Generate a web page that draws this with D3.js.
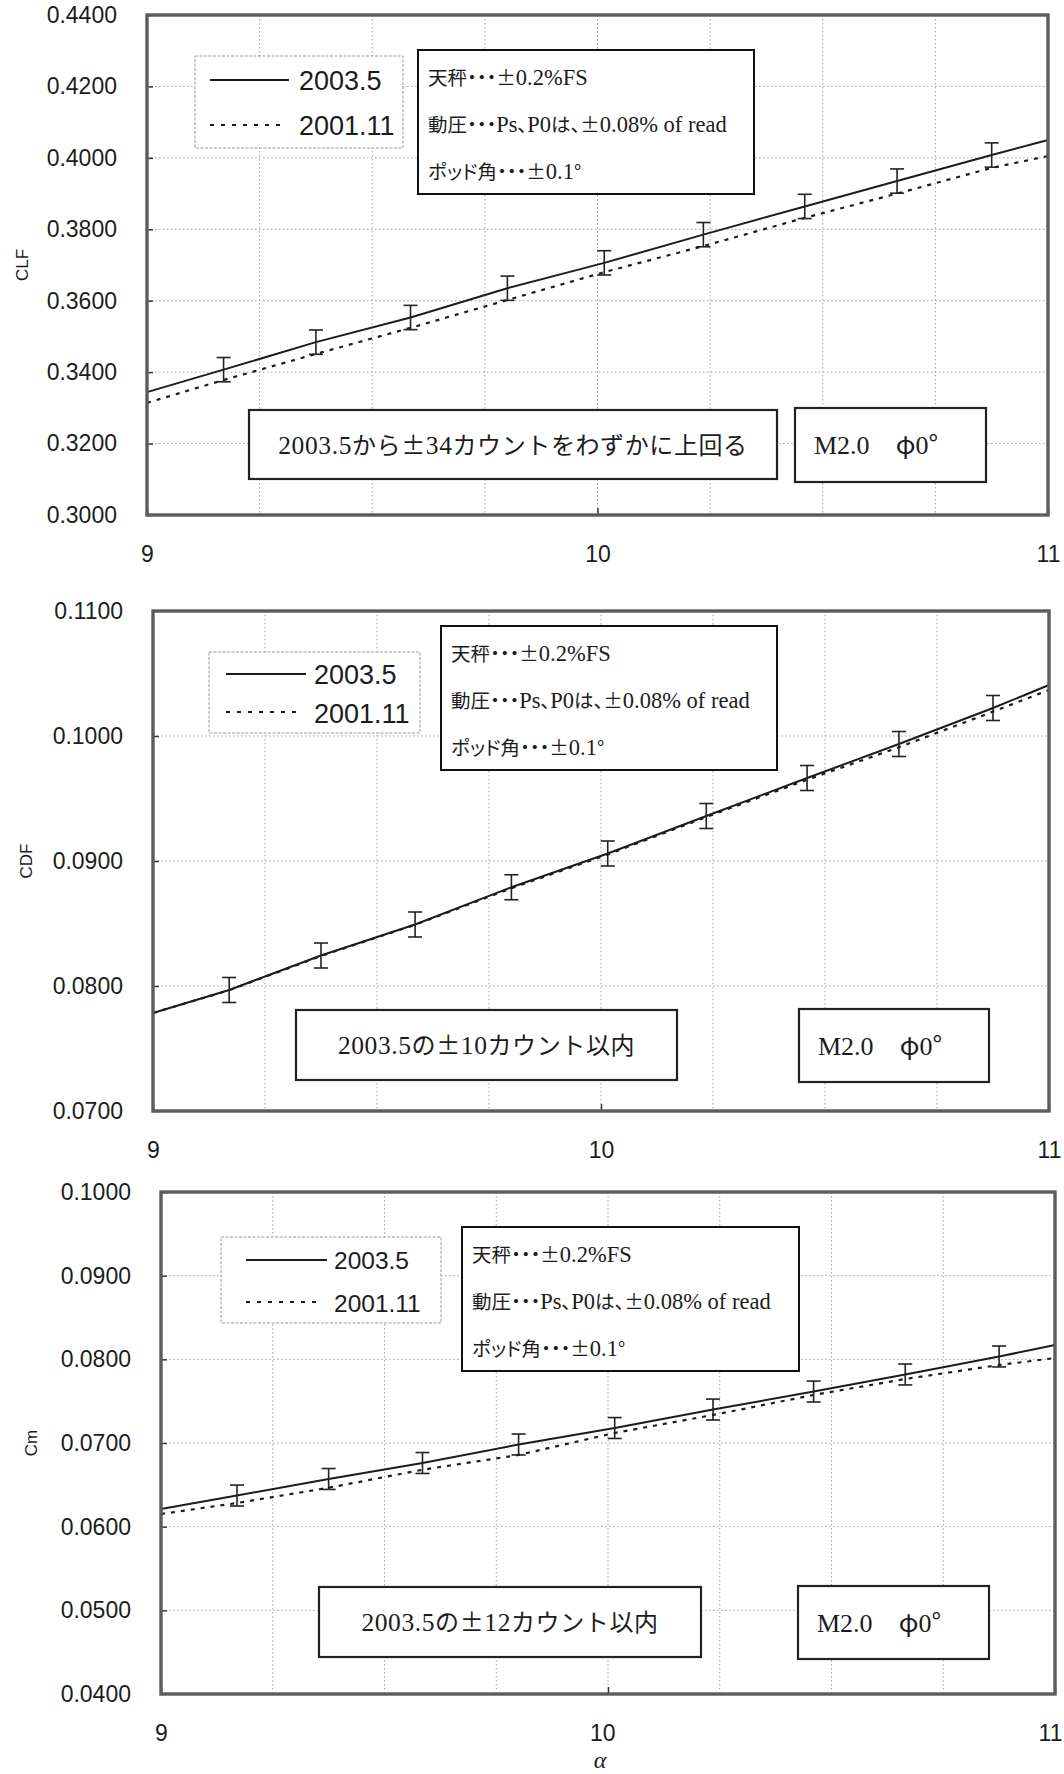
<!DOCTYPE html>
<html>
<head>
<meta charset="utf-8">
<script src="https://cdn.jsdelivr.net/npm/d3@7"></script>
<style>
  html, body { margin: 0; padding: 0; background: #fff; }
  svg { display: block; }
</style>
</head>
<body>
<svg id="chart" width="1064" height="1774"></svg>
<script>
// ---- data ----------------------------------------------------------------
// angle of attack (deg); first and last entries are the frame edges
const alpha = [9.0, 9.17, 9.375, 9.585, 9.80, 10.015, 10.235, 10.46, 10.665, 10.875, 11.0];

const seriesNames = ["2003.5", "2001.11"];

const clf2003 = [0.3344, 0.3407, 0.3484, 0.3553, 0.3635, 0.3706, 0.3785, 0.3864, 0.3935, 0.4008, 0.4050];
const clf2001 = [0.3314, 0.3378, 0.3451, 0.3524, 0.3602, 0.3680, 0.3753, 0.3832, 0.3900, 0.3972, 0.4005];
const clfErr  = [null, 0.0034, 0.0034, 0.0034, 0.0034, 0.0034, 0.0034, 0.0034, 0.0034, 0.0034, null];

const cdf2003 = [0.07784, 0.07968, 0.08244, 0.08492, 0.08790, 0.09060, 0.09360, 0.09664, 0.09936, 0.10224, 0.10408];
const cdf2001 = [0.07784, 0.07966, 0.08240, 0.08490, 0.08782, 0.09052, 0.09352, 0.09650, 0.09910, 0.10195, 0.10368];
const cdfErr  = [null, 0.0010, 0.0010, 0.0010, 0.0010, 0.0010, 0.0010, 0.0010, 0.0010, 0.0010, null];

const cm2003 = [0.06211, 0.06372, 0.06570, 0.06761, 0.06982, 0.07179, 0.07400, 0.07615, 0.07819, 0.08034, 0.08171];
const cm2001 = [0.06151, 0.06283, 0.06465, 0.06680, 0.06857, 0.07120, 0.07335, 0.07574, 0.07765, 0.07932, 0.08016];
const cmErr  = [null, 0.00125, 0.00125, 0.00125, 0.00125, 0.00125, 0.00125, 0.00125, 0.00125, 0.00125, null];

const xTicks = [9, 10, 11];
const xGrid = [9.25, 9.5, 9.75, 10, 10.25, 10.5, 10.75];
const clfTicks = [0.30, 0.32, 0.34, 0.36, 0.38, 0.40, 0.42, 0.44];
const cdfTicks = [0.07, 0.08, 0.09, 0.10, 0.11];
const cmTicks  = [0.04, 0.05, 0.06, 0.07, 0.08, 0.09, 0.10];

const noteLines = ["天秤・・・±0.2%FS", "動圧・・・Ps、P0は、±0.08% of read", "ポッド角・・・±0.1°"];
const clfRemark = "2003.5から±34カウントをわずかに上回る";
const cdfRemark = "2003.5の±10カウント以内";
const cmRemark  = "2003.5の±12カウント以内";
const condition = "M2.0　φ0°";
const xTitle = "α";

// ---- panel layout --------------------------------------------------------
const panels = [
  { title: "CLF", s1: clf2003, s2: clf2001, err: clfErr, ticks: clfTicks, remark: clfRemark,
    x0: 147, x1: 1048, y0: 15, y1: 515, titleX: 22,
    leg: { x: 195, y: 56, w: 208, h: 92, lx0: 210, lx1: 289, tx: 299, ly1: 80, ly2: 125, b1: 90, b2: 135, fs: 27 },
    info: { x: 418, y: 50, w: 336, h: 144 },
    box1: { x: 249, y: 410, w: 528, h: 69 },
    box2: { x: 795, y: 408, w: 191, h: 74, tx: 814 } },
  { title: "CDF", s1: cdf2003, s2: cdf2001, err: cdfErr, ticks: cdfTicks, remark: cdfRemark,
    x0: 153, x1: 1049, y0: 611, y1: 1111, titleX: 26,
    leg: { x: 209, y: 652, w: 211, h: 81, lx0: 226, lx1: 306, tx: 314, ly1: 674, ly2: 712, b1: 684, b2: 723, fs: 27 },
    info: { x: 441, y: 626, w: 336, h: 144 },
    box1: { x: 296, y: 1010, w: 381, h: 70 },
    box2: { x: 799, y: 1009, w: 190, h: 73, tx: 818 } },
  { title: "Cm", s1: cm2003, s2: cm2001, err: cmErr, ticks: cmTicks, remark: cmRemark,
    x0: 161, x1: 1055, y0: 1192, y1: 1694, titleX: 31,
    leg: { x: 221, y: 1237, w: 220, h: 86, lx0: 246, lx1: 327, tx: 334, ly1: 1260, ly2: 1302, b1: 1269, b2: 1312, fs: 24.5 },
    info: { x: 462, y: 1227, w: 337, h: 144 },
    box1: { x: 319, y: 1587, w: 382, h: 70 },
    box2: { x: 798, y: 1586, w: 191, h: 73, tx: 817 } }
];

const SANS = "'Liberation Sans', Arial, sans-serif";
const SERIF = "'Liberation Serif', 'Times New Roman', serif";
const CJK = "'Noto Sans CJK JP', sans-serif";
const INK = "#1c1c1c";
const PAGE_W = 1064;

const svg = d3.select("#chart");

// mixed Japanese / Latin text: ASCII runs in a serif face, the rest in the CJK face
function addRuns(text, str, latinSize, cjkSize, palt) {
  str.match(/[\x20-\x7E]+|[^\x20-\x7E]+/g).forEach(run => {
    const ascii = /^[\x20-\x7E]+$/.test(run);
    const t = text.append("tspan").text(run)
      .attr("font-family", ascii ? SERIF : CJK)
      .attr("font-size", ascii ? latinSize : cjkSize);
    if (!ascii && palt) t.style("font-feature-settings", '"palt"');
  });
  return text;
}

panels.forEach(p => {
  const g = svg.append("g");
  const x = d3.scaleLinear().domain([9, 11]).range([p.x0, p.x1]);
  const y = d3.scaleLinear().domain(d3.extent(p.ticks)).range([p.y1, p.y0]);

  // grid
  g.append("g").selectAll("line").data(xGrid).join("line")
    .attr("x1", d => x(d)).attr("x2", d => x(d))
    .attr("y1", p.y0).attr("y2", p.y1)
    .attr("stroke", "#a0a0a0").attr("stroke-width", 1).attr("stroke-dasharray", "1.5,2.5");
  g.append("g").selectAll("line").data(p.ticks.slice(1, -1)).join("line")
    .attr("x1", p.x0).attr("x2", p.x1)
    .attr("y1", d => y(d)).attr("y2", d => y(d))
    .attr("stroke", "#a0a0a0").attr("stroke-width", 1).attr("stroke-dasharray", "1.5,2.5");

  // axes
  const yAxis = d3.axisLeft(y).tickValues(p.ticks).tickFormat(d3.format(".4f"))
    .tickSizeInner(-6).tickSizeOuter(0).tickPadding(30);
  const ya = g.append("g").attr("transform", `translate(${p.x0},0)`).call(yAxis);
  ya.select(".domain").remove();
  ya.selectAll("line").attr("stroke", "#333").attr("stroke-width", 1.5);
  ya.selectAll("text").attr("font-family", SANS).attr("font-size", 23).attr("fill", INK);

  const xAxis = d3.axisBottom(x).tickValues(xTicks).tickFormat(d3.format("d"))
    .tickSizeInner(-7).tickSizeOuter(0).tickPadding(31);
  const xa = g.append("g").attr("transform", `translate(0,${p.y1})`).call(xAxis);
  xa.select(".domain").remove();
  xa.selectAll("line").attr("stroke", "#333").attr("stroke-width", 1.5);
  xa.selectAll("text").attr("font-family", SANS).attr("font-size", 23).attr("fill", INK)
    .each(function () {
      // keep the right-most label on the page
      const b = this.getBBox();
      const right = p.x1 + b.x + b.width;
      if (right > PAGE_W - 2) d3.select(this).attr("dx", PAGE_W - 2 - right);
    });

  // axis title
  g.append("text")
    .attr("transform", `translate(${p.titleX},${(p.y0 + p.y1) / 2}) rotate(-90)`)
    .attr("text-anchor", "middle").attr("dy", "0.35em")
    .attr("font-family", SANS).attr("font-size", 17).attr("fill", INK)
    .text(p.title);

  // series lines
  const pts1 = alpha.map((a, i) => ({ a, v: p.s1[i], e: p.err[i] }));
  const pts2 = alpha.map((a, i) => ({ a, v: p.s2[i] }));
  const line = d3.line().x(d => x(d.a)).y(d => y(d.v));
  g.append("path").datum(pts2).attr("d", line)
    .attr("fill", "none").attr("stroke", INK).attr("stroke-width", 2.2)
    .attr("stroke-dasharray", "4,6");
  g.append("path").datum(pts1).attr("d", line)
    .attr("fill", "none").attr("stroke", INK).attr("stroke-width", 2);

  // error bars on the 2003.5 points
  const bars = g.append("g").selectAll("g").data(pts1.filter(d => d.e != null)).join("g")
    .attr("stroke", "#222").attr("stroke-width", 1.6);
  bars.append("line")
    .attr("x1", d => x(d.a)).attr("x2", d => x(d.a))
    .attr("y1", d => y(d.v + d.e)).attr("y2", d => y(d.v - d.e));
  bars.append("line")
    .attr("x1", d => x(d.a) - 7).attr("x2", d => x(d.a) + 7)
    .attr("y1", d => y(d.v + d.e)).attr("y2", d => y(d.v + d.e));
  bars.append("line")
    .attr("x1", d => x(d.a) - 7).attr("x2", d => x(d.a) + 7)
    .attr("y1", d => y(d.v - d.e)).attr("y2", d => y(d.v - d.e));

  // plot frame
  g.append("rect").attr("x", p.x0).attr("y", p.y0)
    .attr("width", p.x1 - p.x0).attr("height", p.y1 - p.y0)
    .attr("fill", "none").attr("stroke", "#5c5c5c").attr("stroke-width", 3.4);

  // legend
  const L = p.leg;
  g.append("rect").attr("x", L.x).attr("y", L.y).attr("width", L.w).attr("height", L.h)
    .attr("fill", "#fff").attr("stroke", "#9a9a9a").attr("stroke-width", 1)
    .attr("stroke-dasharray", "3,1.5");
  g.append("line").attr("x1", L.lx0).attr("x2", L.lx1).attr("y1", L.ly1).attr("y2", L.ly1)
    .attr("stroke", INK).attr("stroke-width", 2);
  g.append("line").attr("x1", L.lx0).attr("x2", L.lx1 - 4).attr("y1", L.ly2).attr("y2", L.ly2)
    .attr("stroke", INK).attr("stroke-width", 2).attr("stroke-dasharray", "4,7");
  g.append("text").attr("x", L.tx).attr("y", L.b1)
    .attr("font-family", SANS).attr("font-size", L.fs).attr("fill", INK).text(seriesNames[0]);
  g.append("text").attr("x", L.tx).attr("y", L.b2)
    .attr("font-family", SANS).attr("font-size", L.fs).attr("fill", INK).text(seriesNames[1]);

  // accuracy note box
  const I = p.info;
  g.append("rect").attr("x", I.x).attr("y", I.y).attr("width", I.w).attr("height", I.h)
    .attr("fill", "#fff").attr("stroke", "#111").attr("stroke-width", 2);
  noteLines.forEach((s, i) => {
    const t = g.append("text").attr("x", I.x + 10).attr("y", I.y + 35 + i * 47).attr("fill", INK);
    addRuns(t, s, 22.5, 19.5, true);
  });

  // remark boxes under the curves
  const B1 = p.box1, B2 = p.box2;
  g.append("rect").attr("x", B1.x).attr("y", B1.y).attr("width", B1.w).attr("height", B1.h)
    .attr("fill", "#fff").attr("stroke", "#222").attr("stroke-width", 2.2);
  addRuns(g.append("text").attr("x", B1.x + B1.w / 2).attr("y", B1.y + B1.h / 2 + 9)
    .attr("text-anchor", "middle").attr("letter-spacing", 0.6).attr("fill", INK), p.remark, 25.5, 24, false);
  g.append("rect").attr("x", B2.x).attr("y", B2.y).attr("width", B2.w).attr("height", B2.h)
    .attr("fill", "#fff").attr("stroke", "#222").attr("stroke-width", 2.2);
  addRuns(g.append("text").attr("x", B2.tx).attr("y", B2.y + B2.h / 2 + 9)
    .attr("fill", INK), condition, 26, 26, false);
});

// x-axis title under the last panel
svg.append("text").attr("x", 600).attr("y", 1768).attr("text-anchor", "middle")
  .attr("font-family", SERIF).attr("font-style", "italic").attr("font-size", 24)
  .attr("fill", INK).text(xTitle);
</script>
</body>
</html>
